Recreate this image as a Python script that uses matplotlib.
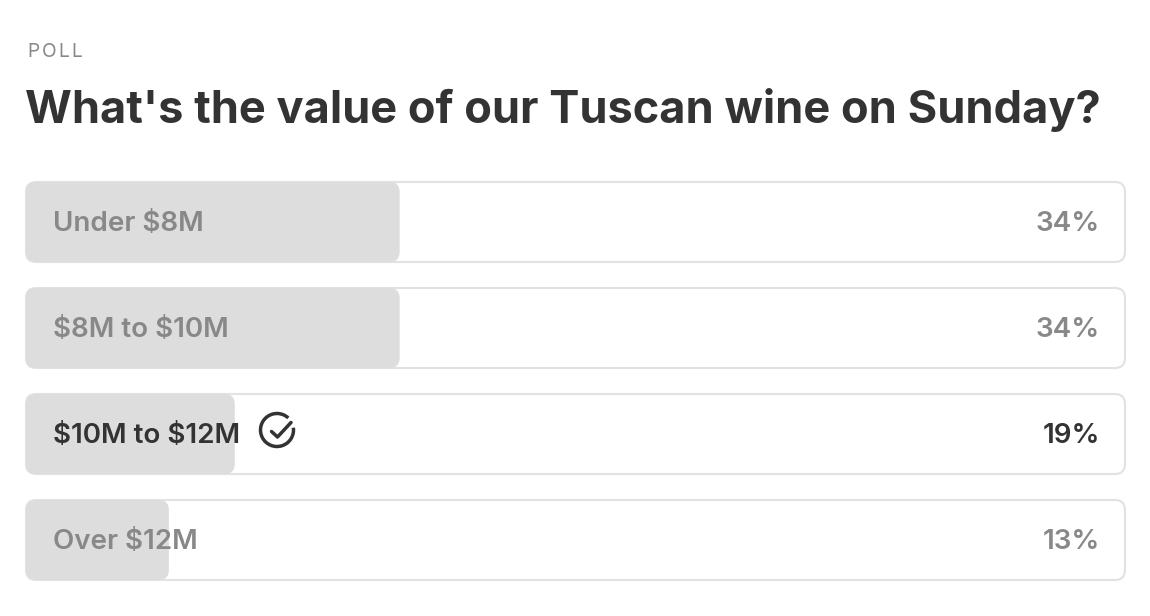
import matplotlib
matplotlib.use("Agg")
import matplotlib.pyplot as plt
from matplotlib.patches import FancyBboxPatch, Arc

# ---- data ----
categories = ["Under $8M", "$8M to $10M", "$10M to $12M", "Over $12M"]
percents = [34, 34, 19, 13]
selected = 2
kicker = "POLL"
title = "What's the value of our Tuscan wine on Sunday?"

W, H = 1150, 616
fig = plt.figure(figsize=(W / 100, H / 100), dpi=100)
ax = fig.add_axes([0, 0, 1, 1])
ax.set_xlim(0, W)
ax.set_ylim(H, 0)
ax.axis("off")

FONT = ["Inter", "DejaVu Sans"]
DARK = "#333333"
GREY = "#888888"

fig.canvas.draw()
renderer = fig.canvas.get_renderer()

# letter-spaced kicker
xk = 27
for ch in kicker:
    t = ax.text(xk, 57, ch, fontsize=13.8, color=GREY, family=FONT,
                va="baseline", ha="left", parse_math=False)
    bb = t.get_window_extent(renderer)
    xk += bb.width + 2.4

ax.text(25, 123, title, fontsize=32.5, color=DARK, family=FONT,
        fontweight="bold", va="baseline", ha="left", parse_math=False)

x0, x1 = 26, 1125
bw = x1 - x0
row_top0, row_h, row_gap = 182, 80, 106
r = 10

for i, (cat, p) in enumerate(zip(categories, percents)):
    top = row_top0 + i * row_gap
    box = FancyBboxPatch((x0, top), bw, row_h,
                         boxstyle=f"round,pad=0,rounding_size={r}",
                         facecolor="white", edgecolor="#e2e2e2", lw=1.5)
    ax.add_patch(box)
    fw = bw * p / 100
    fill = FancyBboxPatch((x0, top), fw, row_h,
                          boxstyle=f"round,pad=0,rounding_size={r}",
                          facecolor="#dddddd", edgecolor="none")
    ax.add_patch(fill)
    col = DARK if i == selected else GREY
    base = top + 49
    ax.text(53, base, cat, fontsize=20, color=col, family=FONT,
            fontweight="semibold", va="baseline", ha="left", parse_math=False)
    ax.text(1100, base, f"{p}%", fontsize=20, color=col, family=FONT,
            fontweight="semibold", va="baseline", ha="right", parse_math=False)
    if i == selected:
        cx, cy, rad = 277, top + 36, 16.5
        arc = Arc((cx, cy), 2 * rad, 2 * rad, angle=0, theta1=-8, theta2=313,
                  color=DARK, lw=2.5)
        ax.add_patch(arc)
        ax.plot([cx - 5.5, cx + 0.5, cx + 14], [cy + 1.5, cy + 7, cy - 7.5],
                color=DARK, lw=2.5, solid_capstyle="round",
                solid_joinstyle="round")

fig.savefig("out.png", dpi=100, facecolor="white")
